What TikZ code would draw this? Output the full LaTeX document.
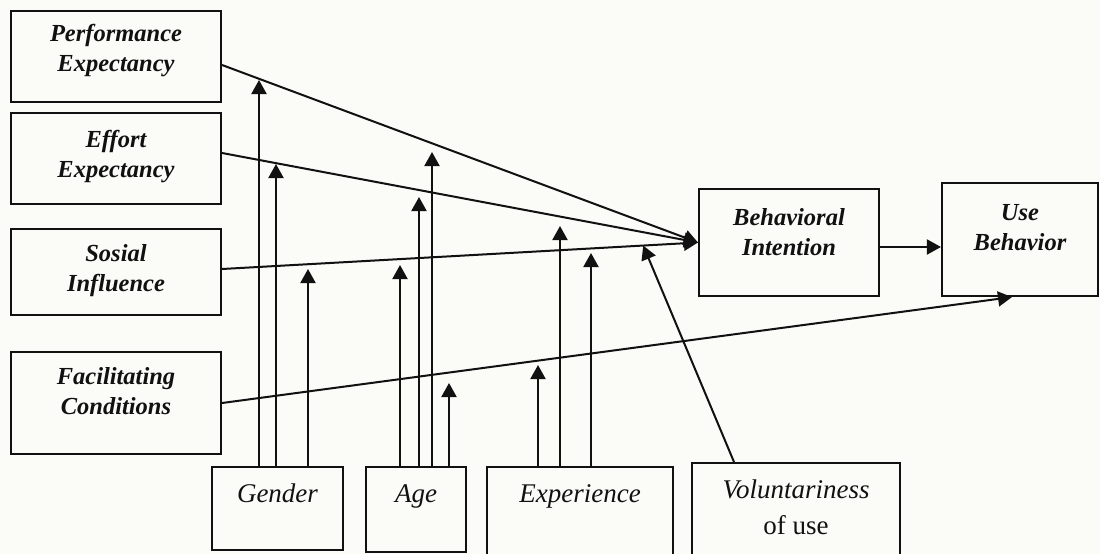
\documentclass[tikz,border=0pt]{standalone}
\usepackage{fontspec}
\setmainfont{Liberation Serif}
\usetikzlibrary{arrows.meta,calc}
\definecolor{paper}{RGB}{251,251,247}
\definecolor{ink}{RGB}{17,17,17}
\begin{document}
\begin{tikzpicture}[x=1pt,y=-1pt,
  box/.style={draw=ink, line width=2.1pt, fill=paper, inner sep=0pt},
  cons/.style={font=\fontsize{24.5}{30}\selectfont\bfseries\itshape, align=center, text=ink, inner sep=0pt},
  modl/.style={font=\fontsize{27}{36}\selectfont, align=center, text=ink, inner sep=0pt, anchor=base},
  arr/.style={draw=ink, line width=2pt, -{Triangle[length=14pt,width=15pt]}}]
\useasboundingbox (0,0) rectangle (1100,554);
\fill[paper] (0,0) rectangle (1100,554);
\clip (0,0) rectangle (1100,554);

% constructs (left column)
\node[box, minimum width=210pt, minimum height=91pt]  (pe) at (116,56.5) {};
\node[box, minimum width=210pt, minimum height=91pt]  (ee) at (116,158.5) {};
\node[box, minimum width=210pt, minimum height=86pt]  (si) at (116,272) {};
\node[box, minimum width=210pt, minimum height=102pt] (fc) at (116,403) {};
% outcomes
\node[box, minimum width=180pt, minimum height=107pt] (bi) at (789,242.5) {};
\node[box, minimum width=156pt, minimum height=113pt] (ub) at (1020,239.5) {};
% moderators
\node[box, minimum width=131pt, minimum height=83pt]  (gd) at (277.5,508.5) {};
\node[box, minimum width=100pt, minimum height=85pt]  (ag) at (416,509.5) {};
\node[box, minimum width=186pt, minimum height=103pt] (ex) at (580,518.5) {};
\node[box, minimum width=208pt, minimum height=107pt] (vu) at (796,516.5) {};

% labels
\node[cons] (pe-t) at (116,51)   {Performance\\Expectancy};
\node[cons] (ee-t) at (116,157)  {Effort\\Expectancy};
\node[cons] (si-t) at (116,270.5) {Sosial\\Influence};
\node[cons] (fc-t) at (116,391.5) {Facilitating\\Conditions};
\node[cons] (bi-t) at (789,232)  {Behavioral\\Intention};
\node[cons] (ub-t) at (1020,227.5) {Use\\Behavior};
\node[modl] (gd-t) at (277.5,502) {\itshape Gender};
\node[modl] (ag-t) at (416,502)   {\itshape Age};
\node[modl] (ex-t) at (580,502)   {\itshape Experience};
\node[modl] (vu-t) at (796,498)   {\itshape Voluntariness};
\node[modl] (vu-u) at (796,534)   {of use};

% main paths
\draw[arr] ([yshift=-8.5pt]pe.east) -- (bi.west);
\draw[arr] ([yshift=5.5pt]ee.east) -- (bi.west);
\draw[arr] ([yshift=3pt]si.east) -- coordinate[pos=0.885] (vt) (bi.west);
\draw[arr] (fc.east) -- ([xshift=-8pt]ub.south);
\coordinate (bo) at ([yshift=-4.5pt]bi.east);
\draw[arr] (bo) -- (bo -| ub.west);
\draw[arr] ([xshift=-62pt]vu.north) -- (vt);

% moderating effects
\coordinate (g1) at (259,80);
\coordinate (g2) at (276,164);
\coordinate (g3) at (308,269);
\coordinate (a1) at (400,265);
\coordinate (a2) at (419,197);
\coordinate (a3) at (432,152);
\coordinate (a4) at (449,383);
\coordinate (e1) at (538,365);
\coordinate (e2) at (560,226);
\coordinate (e3) at (591,253);
\foreach \c in {g1,g2,g3} \draw[arr] (\c |- gd.north) -- (\c);
\foreach \c in {a1,a2,a3,a4} \draw[arr] (\c |- ag.north) -- (\c);
\foreach \c in {e1,e2,e3} \draw[arr] (\c |- ex.north) -- (\c);
\end{tikzpicture}
\end{document}
